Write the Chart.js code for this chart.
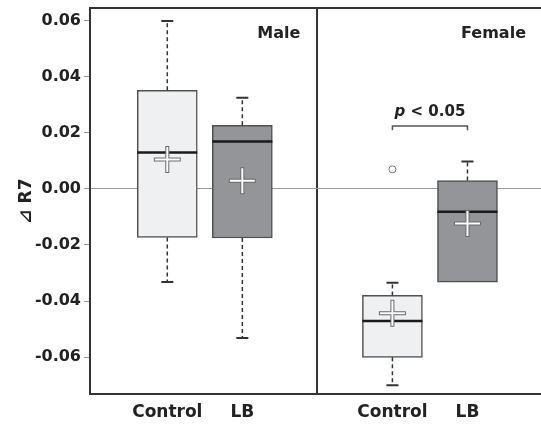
<!DOCTYPE html>
<html>
<head>
<meta charset="utf-8">
<script src="https://cdn.jsdelivr.net/npm/chart.js@4"></script>
<style>
  html, body { margin: 0; padding: 0; background: #fff; }
  #wrap { width: 541px; height: 425px; }
</style>
</head>
<body>
<div id="wrap"><canvas id="boxChart"></canvas></div>
<script>
// data
const panels = ['Male', 'Female'];
const xLabels = ['Control', 'LB', 'Control', 'LB'];
const positions = [1, 2, 4, 5];
const whiskerLow = [-0.0332, -0.0532, -0.0701, -0.0333];
const q1 = [-0.0173, -0.0175, -0.0601, -0.0333];
const medians = [0.0130, 0.0169, -0.0471, -0.0081];
const q3 = [0.0352, 0.0227, -0.0380, 0.0030];
const whiskerHigh = [0.0600, 0.0326, -0.0335, 0.0098];
const means = [0.0105, 0.0029, -0.0444, -0.0123];
const outlierX = [4];
const outlierY = [0.0070];
const yTicks = [-0.06, -0.04, -0.02, 0, 0.02, 0.04, 0.06];
const sigPair = [4, 5];
const sigLabel = ['p', ' < 0.05'];

const boxFill = ['#eff0f2', '#939598', '#eff0f2', '#939598'];
const FONT = '"DejaVu Sans", Verdana, sans-serif';

const whiskerData = [];
const capData = [];
const medianData = [];
positions.forEach((x, i) => {
  whiskerData.push({ x, y: q3[i] }, { x, y: whiskerHigh[i] }, { x, y: null });
  capData.push({ x: x - 0.08, y: whiskerHigh[i] }, { x: x + 0.08, y: whiskerHigh[i] }, { x, y: null });
  if (whiskerLow[i] < q1[i]) {
    whiskerData.push({ x, y: q1[i] }, { x, y: whiskerLow[i] }, { x, y: null });
    capData.push({ x: x - 0.08, y: whiskerLow[i] }, { x: x + 0.08, y: whiskerLow[i] }, { x, y: null });
  }
  medianData.push({ x: x - 0.4, y: medians[i] }, { x: x + 0.4, y: medians[i] }, { x, y: null });
});
const meanData = positions.map((x, i) => ({ x, y: means[i] }));
const outlierData = outlierX.map((x, i) => ({ x, y: outlierY[i] }));
const bracketY = 0.0225;
const bracketData = [
  { x: sigPair[0], y: 0.0210 }, { x: sigPair[0], y: bracketY },
  { x: sigPair[1], y: bracketY }, { x: sigPair[1], y: 0.0210 }
];

const framePlugin = {
  id: 'frame',
  afterDraw(chart) {
    const { ctx, chartArea, scales } = chart;
    ctx.save();
    ctx.strokeStyle = '#333';
    ctx.lineWidth = 2;
    ctx.beginPath();
    ctx.moveTo(chartArea.left, chartArea.top);
    ctx.lineTo(chartArea.right, chartArea.top);
    ctx.stroke();

    ctx.fillStyle = '#222';
    ctx.font = 'bold 16px ' + FONT;
    ctx.textBaseline = 'middle';
    ctx.textAlign = 'right';
    const labelY = chartArea.top + 26;
    ctx.fillText(panels[0], scales.x.getPixelForValue(3) - 17, labelY);
    ctx.fillText(panels[1], chartArea.right - 15, labelY);

    // significance label
    const cx = scales.x.getPixelForValue((sigPair[0] + sigPair[1]) / 2);
    const ty = scales.y.getPixelForValue(0.0276);
    const italic = 'italic bold 15px ' + FONT;
    const bold = 'bold 15px ' + FONT;
    ctx.font = italic;
    const w1 = ctx.measureText(sigLabel[0]).width;
    ctx.font = bold;
    const w2 = ctx.measureText(sigLabel[1]).width;
    const x0 = cx - (w1 + w2) / 2;
    ctx.textAlign = 'left';
    ctx.font = italic;
    ctx.fillText(sigLabel[0], x0, ty);
    ctx.font = bold;
    ctx.fillText(sigLabel[1], x0 + w1, ty);
    ctx.restore();
  }
};

new Chart(document.getElementById('boxChart'), {
  type: 'bar',
  data: {
    datasets: [
      {
        type: 'scatter', label: 'mean-inner', data: meanData, order: 0,
        pointStyle: 'cross', pointRadius: 12.5, borderWidth: 2, borderColor: '#ffffff'
      },
      {
        type: 'scatter', label: 'mean-outer', data: meanData, order: 1,
        pointStyle: 'cross', pointRadius: 13.5, borderWidth: 4, borderColor: '#6a6a6a'
      },
      {
        type: 'scatter', label: 'outlier', data: outlierData, order: 2,
        pointStyle: 'circle', pointRadius: 3.5, borderWidth: 1, borderColor: '#777', backgroundColor: '#fff'
      },
      {
        type: 'line', label: 'median', data: medianData, order: 3,
        borderColor: '#1a1a1a', borderWidth: 2.5, pointRadius: 0, spanGaps: false
      },
      {
        type: 'line', label: 'caps', data: capData, order: 4,
        borderColor: '#333', borderWidth: 2, pointRadius: 0, spanGaps: false
      },
      {
        type: 'line', label: 'whisker', data: whiskerData, order: 5,
        borderColor: '#333', borderWidth: 1.5, borderDash: [4, 3], pointRadius: 0, spanGaps: false
      },
      {
        type: 'line', label: 'bracket', data: bracketData, order: 6,
        borderColor: '#555', borderWidth: 1.5, pointRadius: 0
      },
      {
        type: 'bar', label: 'box', order: 7,
        data: positions.map((x, i) => ({ x, y: [q1[i], q3[i]] })),
        backgroundColor: boxFill, borderColor: '#505050', borderWidth: 1.5,
        borderSkipped: false, barThickness: 60
      }
    ]
  },
  options: {
    responsive: true,
    maintainAspectRatio: false,
    animation: false,
    events: [],
    layout: { padding: { top: 8, right: 0, left: 0, bottom: 0 }, autoPadding: false },
    plugins: { legend: { display: false }, tooltip: { enabled: false } },
    scales: {
      x: {
        type: 'linear',
        offset: false,
        min: -0.03,
        max: 5.98,
        afterBuildTicks: (scale) => { scale.ticks = [1, 2, 3, 4, 5].map((v) => ({ value: v })); },
        afterFit: (scale) => { scale.height = 31; scale.paddingLeft = 0; scale.paddingRight = 0; },
        border: { color: '#333', width: 2 },
        grid: {
          offset: false,
          drawTicks: false,
          lineWidth: 2,
          color: (c) => (c.tick && c.tick.value === 3 ? '#333' : 'transparent')
        },
        ticks: {
          autoSkip: false,
          maxRotation: 0,
          padding: 8,
          color: '#222',
          font: { family: FONT, size: 17, weight: 'bold' },
          callback: (v) => {
            const i = positions.indexOf(v);
            return i >= 0 ? xLabels[i] : '';
          }
        }
      },
      y: {
        min: -0.0732,
        max: 0.0646,
        afterBuildTicks: (scale) => { scale.ticks = yTicks.map((v) => ({ value: v })); },
        afterFit: (scale) => { scale.width = 90; scale.paddingTop = 0; scale.paddingBottom = 0; },
        border: { color: '#333', width: 2 },
        grid: {
          tickLength: 6,
          tickColor: '#999',
          lineWidth: 1,
          color: (c) => (c.tick && c.tick.value === 0 ? '#999' : 'transparent')
        },
        ticks: {
          padding: 3,
          color: '#222',
          font: { family: FONT, size: 16, weight: 'bold' },
          callback: (v) => v.toFixed(2)
        },
        title: {
          display: true,
          text: '⊿ R7',
          color: '#222',
          padding: { top: 16, bottom: 0 },
          font: { family: FONT, size: 17, weight: 'bold' }
        }
      }
    }
  },
  plugins: [framePlugin]
});
</script>
</body>
</html>
